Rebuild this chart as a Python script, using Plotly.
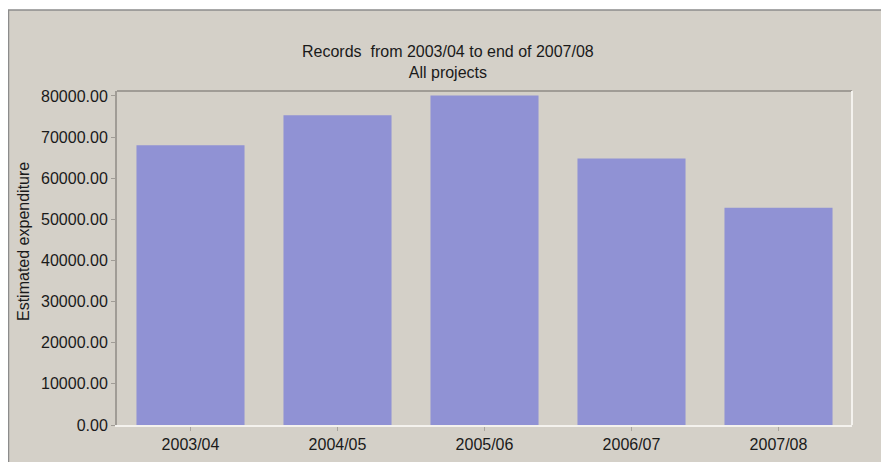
import plotly.graph_objects as go

# ---- data ----
categories = ["2003/04", "2004/05", "2005/06", "2006/07", "2007/08"]
expenditure = [68000, 75300, 80100, 64800, 52800]
y_tick_values = [0, 10000, 20000, 30000, 40000, 50000, 60000, 70000, 80000]
title_lines = ["Records  from 2003/04 to end of 2007/08", "All projects"]
y_title = "Estimated expenditure"

# ---- layout constants (pixels) ----
OFF = 8                      # default page body margin
WIN_W, WIN_H = 889, 462
W, H = WIN_W - OFF, WIN_H - OFF
PLOT_L, PLOT_R, PLOT_T, PLOT_B = 117, 852, 91, 425   # window coords
L = PLOT_L - OFF
T = PLOT_T - OFF
R = WIN_W - PLOT_R
B = WIN_H - PLOT_B
PW, PH = W - L - R, H - T - B
BG = "#D4D0C8"
BAR = "#9092D4"
TXT = "#1a1a1a"
FONT = "Liberation Sans, Arial, sans-serif"


def px(x):
    return (x - OFF - L) / PW


def py(y):
    return (H - B - (y - OFF)) / PH


fig = go.Figure(
    go.Bar(
        x=categories,
        y=expenditure,
        marker=dict(color=BAR, line=dict(width=0)),
        hoverinfo="x+y",
    )
)

shapes = [
    # outer gray panel with dark top/left border
    dict(type="rect", xref="paper", yref="paper", layer="below",
         x0=px(8.5), x1=px(WIN_W + 5), y0=py(WIN_H + 5), y1=py(10),
         fillcolor=BG, line=dict(color="#8c8c8c", width=1.5)),
    # plot frame: top (dark) and right (white)
    dict(type="line", xref="paper", yref="paper", layer="above",
         x0=0, x1=1, y0=1, y1=1, line=dict(color="#a09c96", width=2)),
    dict(type="line", xref="paper", yref="paper", layer="above",
         x0=1, x1=1, y0=0, y1=1, line=dict(color="#f4f2ee", width=2)),
]

annotations = [
    dict(xref="paper", yref="paper", x=px(447.5), y=py(62),
         xanchor="center", yanchor="middle", showarrow=False,
         text="<br>".join(title_lines), font=dict(size=16, color=TXT, family=FONT)),
    dict(xref="paper", yref="paper", x=px(24), y=py(242),
         xanchor="center", yanchor="middle", showarrow=False, textangle=-90,
         text=y_title, font=dict(size=16, color=TXT, family=FONT)),
]

fig.update_layout(
    width=W, height=H,
    margin=dict(l=L, r=R, t=T, b=B, pad=0, autoexpand=False),
    paper_bgcolor="white",
    plot_bgcolor=BG,
    font=dict(family=FONT, size=16, color=TXT),
    bargap=0.265,
    showlegend=False,
    shapes=shapes,
    annotations=annotations,
)

fig.update_xaxes(
    type="category", automargin=False,
    showgrid=False, zeroline=False,
    showline=True, linecolor="#f4f2ee", linewidth=2,
    ticks="outside", ticklen=4, tickcolor="#a8a49e", tickwidth=1,
    tickfont=dict(size=16, color=TXT, family=FONT),
)

fig.update_yaxes(
    range=[0, 81200], automargin=False,
    tickvals=y_tick_values, tickformat=".2f",
    showgrid=False, zeroline=False,
    showline=True, linecolor="#a09c96", linewidth=2,
    ticks="outside", ticklen=4, tickcolor="#a09c96", tickwidth=1,
    tickfont=dict(size=16, color=TXT, family=FONT),
)

fig.write_html("out.html")
